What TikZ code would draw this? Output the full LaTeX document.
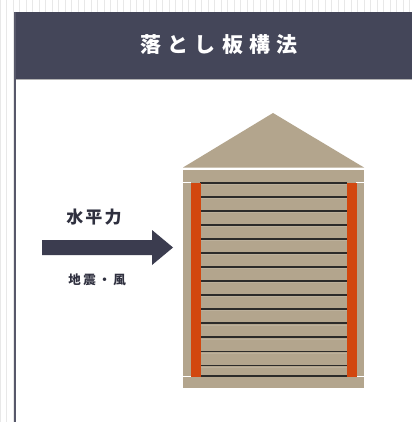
\documentclass[tikz,border=0pt]{standalone}
\usepackage{fontspec}
\usepackage{xcolor}
\usepackage{tikz}
\usetikzlibrary{positioning}
\newfontfamily\jpfont{Noto Sans CJK JP}

\definecolor{header}{HTML}{444659}
\definecolor{navy}{HTML}{3B3C4F}
\definecolor{wood}{HTML}{B3A58D}
\definecolor{pillar}{HTML}{D2470F}
\definecolor{seam}{HTML}{2C2B2A}

\tikzset{
    gridline/.style={draw=gray!18, line width=0.8pt},
    board/.style={draw=seam, line width=1.8pt},
    gap/.style={draw=white, line width=1.3pt},
}

\begin{document}
\begin{tikzpicture}[x=1pt, y=-1pt]
    \useasboundingbox (0,0) rectangle (412,422);
    \draw[gridline] (0,0) grid[step=6.5] (412,422);
    \fill[white] (14,12) rectangle (412,422);

    % header bar
    \fill[header] (14,12) rectangle (412,79);
    \draw[gray!60, line width=1pt] (14,79.5) -- (412,79.5);
    \draw[header!90!white, line width=2pt] (14.5,12) -- (14.5,422);
    \node[text=white, font=\jpfont\bfseries\fontsize{21}{21}\selectfont\addfontfeatures{LetterSpace=30}] (title) at (219,45) {落とし板構法};

    % horizontal force
    \node[text=navy!80!black, font=\jpfont\bfseries\fontsize{17}{17}\selectfont\addfontfeatures{LetterSpace=12}] (force) at (94,217) {水平力};
    \fill[navy] (42,240) -- (152,240) -- (152,230) -- (173,247.5) -- (152,265) -- (152,255) -- (42,255) -- cycle;
    \node[text=navy!80!black, font=\jpfont\bfseries\fontsize{12.5}{12.5}\selectfont\addfontfeatures{LetterSpace=20}] (cause) at (97,280) {地震・風};

    % roof and frame
    \fill[wood] (183,167.5) -- (273,113) -- (364,167.5) -- cycle;
    \fill[wood] (183,170) rectangle (364,388);
    \draw[gap] (183,169.2) -- (364,169.2);
    \draw[gap] (183,182.5) -- (191,182.5);
    \draw[gap] (356,182.5) -- (364,182.5);
    \draw[gap] (183,376.5) -- (191,376.5);
    \draw[gap] (356,376.5) -- (364,376.5);

    % boards between the posts
    \foreach \y in {0,...,13} {
        \draw[board] (200,182.8+14.05*\y) -- (347,182.8+14.05*\y);
        \draw[wood!88!white, line width=0.8pt] (200,184.4+14.05*\y) -- (347,184.4+14.05*\y);
    }
    \draw[board] (200,376) -- (347,376);

    % posts
    \fill[pillar] (190.5,183) rectangle (200.5,377);
    \fill[pillar] (346.5,183) rectangle (356.5,377);
\end{tikzpicture}
\end{document}
